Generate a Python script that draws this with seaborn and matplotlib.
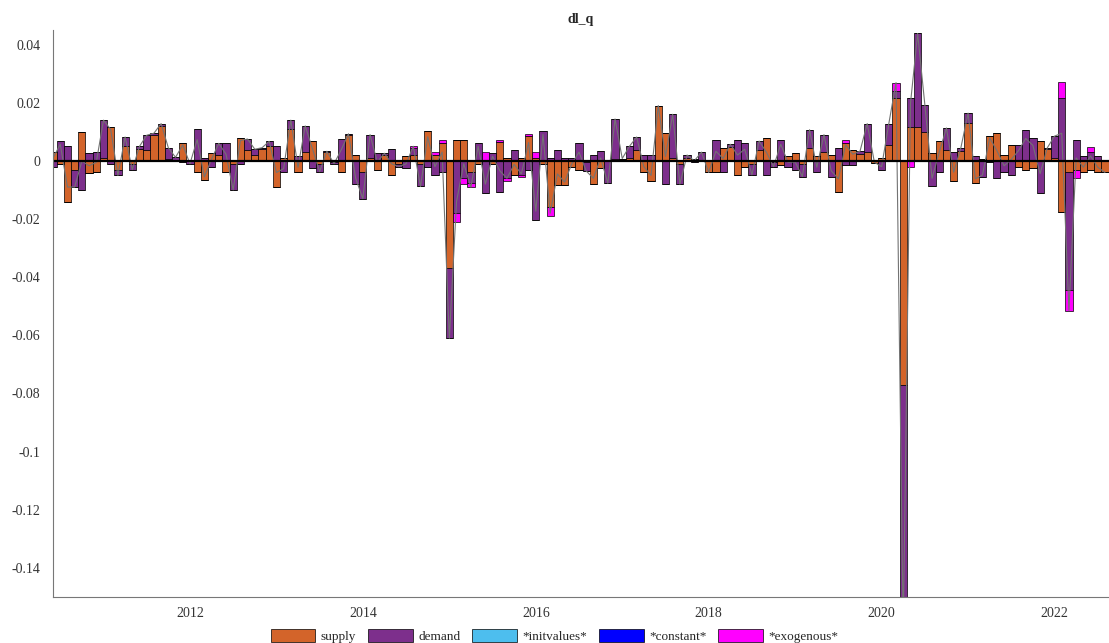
import matplotlib
matplotlib.use("Agg")
import matplotlib.pyplot as plt
from matplotlib.patches import Patch
import numpy as np
import pandas as pd
import seaborn as sns

# historical decomposition of dl_q, monthly
supply = [
    0.003, -0.001, -0.014, -0.003, 0.0099, -0.0043, -0.0037, 0.001, 0.0118, -0.003,
    0.005, -0.001, 0.004, 0.0038, 0.009, 0.012, 0.0005, 0.0002, 0.006, 0.0,
    -0.0037, -0.0065, 0.0026, 0.002, -0.0037,
    -0.001, 0.008, 0.0038, 0.002, 0.004, 0.005, -0.009, 0.001, 0.011, -0.0037,
    0.003, 0.0067, -0.001, 0.003, -0.0005, -0.0037, 0.009, 0.002, -0.004, 0.001,
    -0.003, 0.002, -0.005, -0.001,
    0.0015, 0.002, -0.001, 0.0103, 0.002, 0.006, -0.037, 0.007, 0.007, -0.0037,
    -0.001, 0.0, -0.001, 0.0065, 0.001, -0.005, 0.001, 0.0085, 0.001, -0.001,
    -0.016, -0.0083, -0.0083, -0.002, -0.003,
    -0.0005, -0.008, -0.0025, 0.0, 0.0005, 0.0005, 0.001, 0.0038, -0.004, -0.007,
    0.019, 0.0095, 0.001, -0.001, 0.001, 0.0005, 0.0, -0.004, -0.0037, 0.0045,
    0.0047, -0.005, -0.002,
    -0.001, 0.0038, 0.0078, -0.0005, -0.0015, 0.0015, 0.0026, -0.001, 0.0044, 0.0015,
    0.003, 0.002, -0.0106, 0.006, 0.0038, 0.0025, 0.003, -0.0008, 0.001, 0.0055,
    0.0216, -0.077, 0.0118, 0.0118, 0.010, 0.0026,
    0.0067, 0.0038, -0.0071, 0.0035, 0.013, -0.0077, 0.0005, 0.0084, 0.0095, 0.002,
    0.0055, -0.002, -0.003, -0.0025, 0.0067, 0.004, 0.001, -0.0175, -0.004, -0.003,
    -0.0037, -0.003, -0.0037, -0.004,
]
demand = [
    -0.002, 0.0067, 0.005, -0.006, -0.010, 0.0026, 0.0032, 0.013, -0.001, -0.002,
    0.0032, -0.002, 0.001, 0.005, 0.0005, 0.0008, 0.004, 0.001, -0.0005, -0.001,
    0.011, 0.001, -0.002, 0.004, 0.006,
    -0.009, -0.001, 0.0037, 0.002, 0.0005, 0.0017, 0.005, -0.0037, 0.003, 0.0015,
    0.009, -0.0025, -0.0027, 0.0003, -0.0005, 0.0075, 0.0003, -0.008, -0.009, 0.008,
    0.0026, 0.0006, 0.004, -0.001,
    -0.0025, 0.0025, -0.0078, -0.002, -0.005, -0.004, -0.024, -0.018, -0.006, -0.004,
    0.006, -0.011, 0.0026, -0.0106, -0.006, 0.0038, -0.005, -0.003, -0.0203, 0.0101,
    0.001, 0.0038, 0.001, 0.001, 0.006,
    -0.003, 0.002, 0.0035, -0.0077, 0.0139, 0.0003, 0.004, 0.0044, 0.002, 0.002,
    0.0, -0.008, 0.015, -0.007, 0.001, -0.0005, 0.003, 0.0, 0.007, -0.0037,
    0.001, 0.007, 0.006,
    -0.0038, 0.003, -0.0048, -0.0015, 0.0072, -0.002, -0.003, -0.0044, 0.0063, -0.0037,
    0.006, -0.0054, 0.0044, -0.0015, -0.0015, 0.0008, 0.0098, 0.0003, -0.003, 0.0073,
    0.0024, -0.085, 0.0098, 0.032, 0.0093, -0.0086,
    -0.0037, 0.0075, 0.0032, 0.001, 0.0034, 0.0015, -0.0054, -0.0005, -0.006, -0.0037,
    -0.005, 0.0055, 0.0107, 0.0078, -0.0111, 0.0005, 0.0075, 0.0216, -0.0405, 0.007,
    0.0015, 0.003, 0.0015, 0.0,
]
exogenous = [0.0] * 49 + [
    0.0, 0.0005, 0.0, 0.0, 0.001, 0.001, 0.0, -0.003, -0.002, -0.0013,
    0.0, 0.003, 0.0, 0.0007, -0.001, 0.0, -0.0005, 0.0008, 0.002, 0.0,
    -0.003, 0.0, 0.0, 0.0, 0.0,
] + [0.0] * 36 + [
    0.001, 0.0, 0.0, 0.0, 0.0, 0.0, 0.0, 0.0029, 0.0, -0.002, 0.0, 0.0, 0.0,
] + [0.0] * 17 + [
    0.0054, -0.007, -0.003, 0.0, 0.0017, 0.0, 0.0,
]

legend_labels = ["supply", "demand", "*initvalues*", "*constant*", "*exogenous*"]
legend_colors = ["#D3642A", "#7D2F8C", "#4DBEEE", "#0000FF", "#FF00FF"]

months = pd.period_range("2010-06", periods=len(supply), freq="M")
dates = months.year + (months.month - 1) / 12.0

sns.set_theme(style="white")
plt.rcParams["font.family"] = ["Liberation Serif", "DejaVu Serif"]

fig = plt.figure(figsize=(11.09, 6.43), dpi=100)
ax = fig.add_axes([53 / 1109, 46 / 643, 1 - 53 / 1109, (597 - 30) / 643])

# stacked bars, positive and negative parts stacked separately
pos_bottom = np.zeros(len(dates))
neg_bottom = np.zeros(len(dates))
for vals, col in [(supply, legend_colors[0]), (demand, legend_colors[1]),
                  (exogenous, legend_colors[4])]:
    vals = np.array(vals)
    pos = np.where(vals > 0, vals, 0.0)
    neg = np.where(vals < 0, vals, 0.0)
    for part, bot in [(pos, pos_bottom), (neg, neg_bottom)]:
        sns.barplot(x=dates, y=part, bottom=bot.copy(), native_scale=True, orient="x",
                    width=1, color=col, saturation=1, edgecolor="black",
                    linewidth=0.5, errorbar=None, ax=ax)
    pos_bottom += pos
    neg_bottom += neg

total = np.array(supply) + np.array(demand) + np.array(exogenous)
ax.plot(dates, total, color="0.45", linewidth=0.8)
ax.axhline(0, color="black", linewidth=1.6)

ax.set_xlim(2010.416, 2022.63)
ax.set_ylim(-0.15, 0.045)
yt = [0.04, 0.02, 0, -0.02, -0.04, -0.06, -0.08, -0.1, -0.12, -0.14]
ax.set_yticks(yt)
ax.set_yticklabels(["0.04", "0.02", "0", "-0.02", "-0.04", "-0.06", "-0.08", "-0.1", "-0.12", "-0.14"])
xt = [2012, 2014, 2016, 2018, 2020, 2022]
ax.set_xticks(xt)
ax.set_xticklabels([str(x) for x in xt])
ax.tick_params(axis="both", direction="in", length=4, width=0.8, color="#666666",
               labelcolor="#333333", labelsize=10)
ax.tick_params(axis="y", pad=9)
ax.tick_params(axis="x", pad=7)
ax.set_xlabel("")
ax.set_ylabel("")
for side in ["top", "right"]:
    ax.spines[side].set_visible(False)
for side in ["left", "bottom"]:
    ax.spines[side].set_color("#777777")
    ax.spines[side].set_linewidth(0.8)

ax.set_title("dl_q", fontweight="bold", fontsize=10, pad=5)

handles = [Patch(facecolor=c, edgecolor="black", linewidth=0.5, label=l)
           for l, c in zip(legend_labels, legend_colors)]
fig.legend(handles=handles, loc="lower center", bbox_to_anchor=(0.5, 0.0), ncol=5,
           frameon=False, fontsize=9.5, handlelength=3.4, handleheight=1.2,
           columnspacing=0.9, handletextpad=0.4, borderaxespad=0, borderpad=0)

fig.savefig("out.png", dpi=100)
